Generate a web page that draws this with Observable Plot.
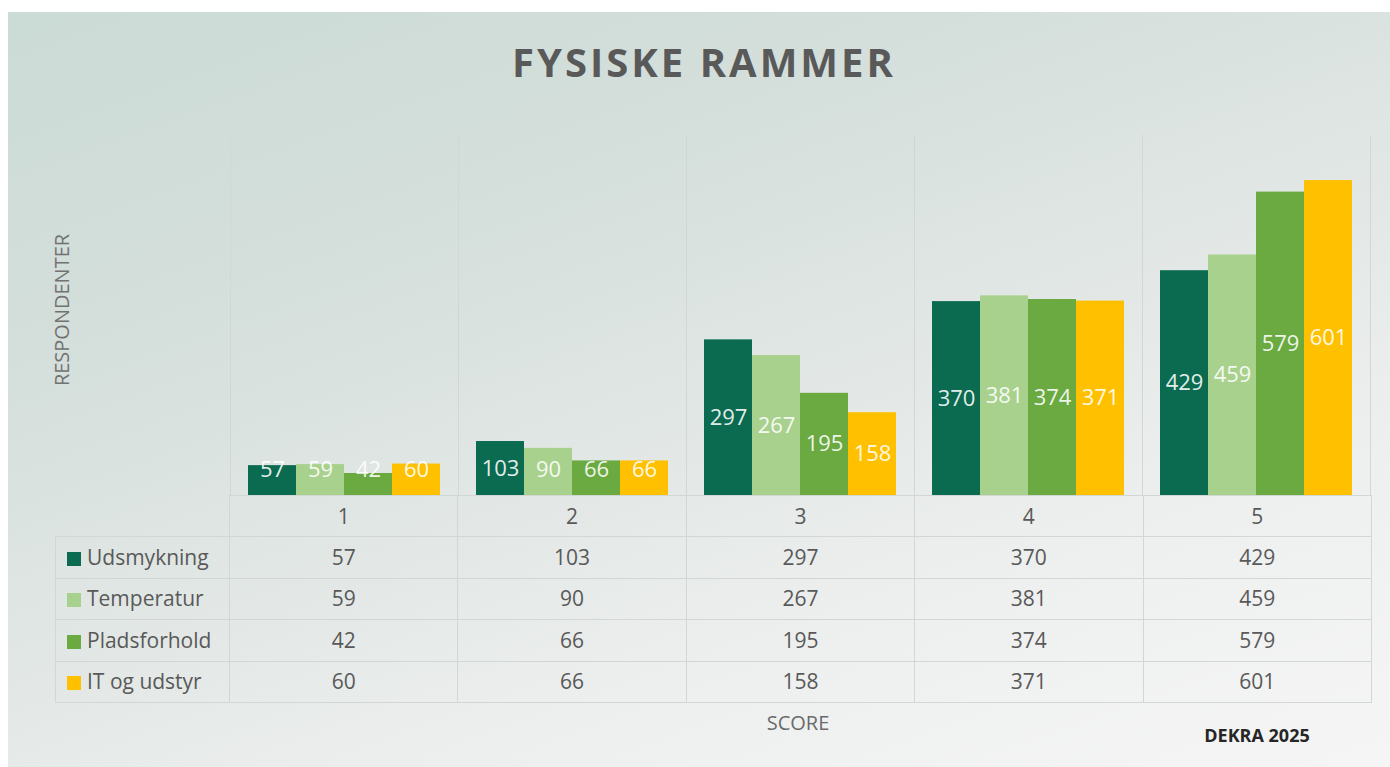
<!DOCTYPE html>
<html>
<head>
<meta charset="utf-8">
<script src="https://cdn.jsdelivr.net/npm/d3@7"></script>
<script src="https://cdn.jsdelivr.net/npm/@observablehq/plot@0.6"></script>
<style>
  html, body { margin:0; padding:0; background:#ffffff; width:1390px; height:767px; overflow:hidden; font-family:"Open Sans", sans-serif; }
  #bg { position:absolute; left:8px; top:12px; width:1382px; height:755px;
        background: linear-gradient(160deg, #cbdbd6 0%, #d5dfdb 30%, #e3e8e6 55%, #eef0ef 75%, #f5f5f5 100%); }
  #title { position:absolute; left:0; width:1408px; top:42px; text-align:center; font-size:40px; line-height:1; font-weight:700; letter-spacing:3px; color:#595959; }
  #ylab { position:absolute; left:62px; top:310px; transform:translate(-50%,-50%) rotate(-90deg); font-size:20px; color:#727272; white-space:nowrap; line-height:1; }
  #xlab { position:absolute; left:798px; top:723px; transform:translate(-50%,-50%); font-size:20px; color:#6a6a6a; line-height:1; }
  #src { position:absolute; left:1257px; top:735px; transform:translate(-50%,-50%); font-size:18px; font-weight:700; color:#262626; line-height:1; }
  #chart { position:absolute; left:229px; top:135px; }
  #tbl { position:absolute; left:55px; top:495px; border-collapse:collapse; table-layout:fixed; width:1316px; }
  #tbl td { border:1px solid #d2d6d4; height:40.4px; padding:0; text-align:center; font-size:21px; color:#595959; line-height:1; }
  #tbl td.leg { text-align:left; padding-left:11px; white-space:nowrap; }
  #tbl td.blank { border:none; }
  .sw { display:inline-block; width:14px; height:14px; margin-right:6px; vertical-align:-1px; }
</style>
</head>
<body>
<div id="bg"></div>
<div id="title">FYSISKE RAMMER</div>
<div id="ylab">RESPONDENTER</div>
<div id="chart"></div>
<table id="tbl"></table>
<div id="xlab">SCORE</div>
<div id="src">DEKRA 2025</div>
<script>
const scores = ["1", "2", "3", "4", "5"];
const series = ["Udsmykning", "Temperatur", "Pladsforhold", "IT og udstyr"];
const udsmykning   = [57, 103, 297, 370, 429];
const temperatur   = [59, 90, 267, 381, 459];
const pladsforhold = [42, 66, 195, 374, 579];
const itOgUdstyr   = [60, 66, 158, 371, 601];
const colors = ["#0b6b50", "#a9d18e", "#6aaa40", "#ffc000"];

const seriesValues = [udsmykning, temperatur, pladsforhold, itOgUdstyr];
const data = scores.flatMap((s, i) => series.map((name, j) => ({score: s, series: name, value: seriesValues[j][i]})));

const chart = Plot.plot({
  width: 1141,
  height: 362,
  marginTop: 0,
  marginBottom: 2,
  marginLeft: 0,
  marginRight: 0,
  style: {background: "transparent", fontFamily: "Open Sans", overflow: "visible"},
  fx: {domain: scores, padding: 0, axis: null},
  x: {domain: series, axis: null, paddingInner: 0, paddingOuter: 0.36},
  y: {domain: [0, 687], axis: null},
  color: {domain: series, range: colors},
  marks: [
    Plot.frame({anchor: "left", stroke: "#d2d6d4"}),
    Plot.frame({anchor: "right", stroke: "#d2d6d4"}),
    Plot.barY(data, {fx: "score", x: "series", y: "value", fill: "series"}),
    Plot.ruleY([0], {stroke: "#d2d6d4"}),
    Plot.text(data, {fx: "score", x: "series", y: d => Math.max(d.value / 2, 48), text: "value",
      fill: "#ffffff", fillOpacity: 0.9, fontSize: 22})
  ]
});
document.getElementById("chart").appendChild(chart);

// data table below the chart
const tbl = document.getElementById("tbl");
const colgroup = document.createElement("colgroup");
const c0 = document.createElement("col"); c0.style.width = "174px"; colgroup.appendChild(c0);
scores.forEach(() => { const c = document.createElement("col"); c.style.width = "228.4px"; colgroup.appendChild(c); });
tbl.appendChild(colgroup);
const head = document.createElement("tr");
const h0 = document.createElement("td"); h0.className = "blank"; head.appendChild(h0);
scores.forEach(s => { const td = document.createElement("td"); td.textContent = s; head.appendChild(td); });
tbl.appendChild(head);
series.forEach((name, j) => {
  const tr = document.createElement("tr");
  const lg = document.createElement("td"); lg.className = "leg";
  const sw = document.createElement("span"); sw.className = "sw"; sw.style.background = colors[j];
  lg.appendChild(sw); lg.appendChild(document.createTextNode(name));
  tr.appendChild(lg);
  seriesValues[j].forEach(v => { const td = document.createElement("td"); td.textContent = v; tr.appendChild(td); });
  tbl.appendChild(tr);
});
</script>
</body>
</html>
